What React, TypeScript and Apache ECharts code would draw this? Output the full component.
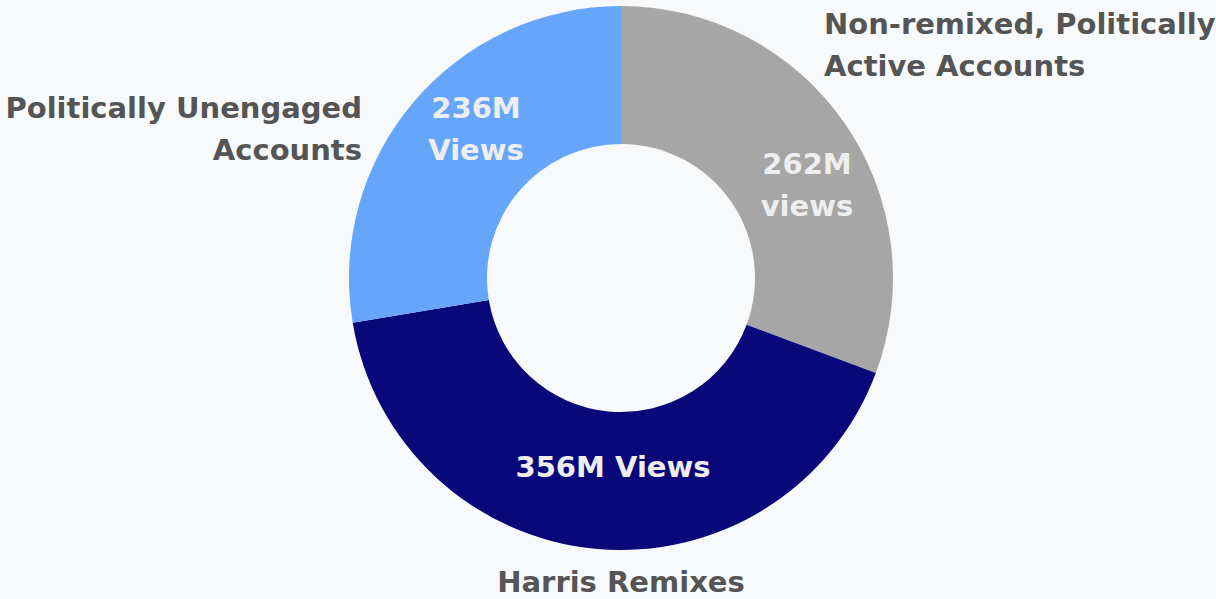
import React, { useEffect, useRef } from "react";
import * as echarts from "echarts";

const categories = [
  "Non-remixed, Politically\nActive Accounts",
  "Harris Remixes",
  "Politically Unengaged\nAccounts",
];
const views = [262, 356, 236];
const valueLabels = ["262M\nviews", "356M Views", "236M\nViews"];
const colors = ["#a6a6a6", "#08087a", "#65a6fb"];

const FONT = "'DejaVu Sans', sans-serif";

export default function App() {
  const ref = useRef<HTMLDivElement>(null);
  useEffect(() => {
    document.body.style.margin = "0";
    const chart = echarts.init(ref.current!, null, { renderer: "svg" });
    const data = categories.map((name, i) => ({
      name,
      value: views[i],
      itemStyle: { color: colors[i] },
    }));
    const innerPos = [
      { x: 807, y: 185 },
      { x: 613, y: 467 },
      { x: 476, y: 129 },
    ];
    const outerPos = [
      { x: 824, y: 45, align: "left" },
      { x: 621, y: 582, align: "center" },
      { x: 362, y: 129, align: "right" },
    ];
    chart.setOption({
      animation: false,
      backgroundColor: "#f8f9fa",
      series: [
        {
          type: "pie",
          center: [621, 278],
          radius: [134, 272],
          startAngle: 90,
          clockwise: true,
          silent: true,
          data,
          label: {
            show: true,
            position: "inside",
            formatter: (p: any) => valueLabels[p.dataIndex],
            color: "#eeeeee",
            fontFamily: FONT,
            fontWeight: "bold",
            fontSize: 29,
            lineHeight: 42,
            align: "center",
            overflow: "none",
          },
          labelLine: { show: false },
          labelLayout: (p: any) => ({
            x: innerPos[p.dataIndex].x,
            y: innerPos[p.dataIndex].y,
            align: "center",
            verticalAlign: "middle",
          }),
        },
        {
          type: "pie",
          center: [621, 278],
          radius: [134, 272],
          startAngle: 90,
          clockwise: true,
          silent: true,
          data: categories.map((name, i) => ({
            name,
            value: views[i],
            itemStyle: { color: "rgba(0,0,0,0)" },
          })),
          label: {
            show: true,
            position: "inside",
            formatter: (p: any) => p.name,
            color: "#555555",
            fontFamily: FONT,
            fontWeight: "bold",
            fontSize: 29,
            lineHeight: 42,
            overflow: "none",
            align: "left",
          },
          labelLine: { show: false },
          labelLayout: (p: any) => ({
            x: outerPos[p.dataIndex].x,
            y: outerPos[p.dataIndex].y,
            align: outerPos[p.dataIndex].align,
            verticalAlign: "middle",
          }),
        },
      ],
    });
    return () => chart.dispose();
  }, []);
  return <div ref={ref} style={{ width: 1216, height: 599 }} />;
}
